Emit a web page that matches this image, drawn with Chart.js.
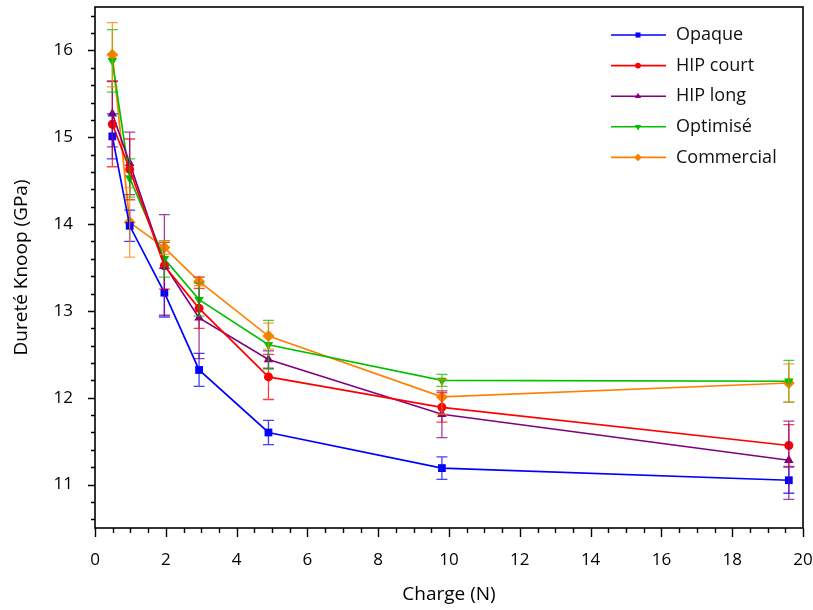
<!DOCTYPE html>
<html>
<head>
<meta charset="utf-8">
<script src="https://cdn.jsdelivr.net/npm/chart.js@4"></script>
<style>
  html, body { margin: 0; padding: 0; background: #fff; }
  #wrap { width: 813px; height: 610px; }
</style>
</head>
<body>
<div id="wrap"><canvas id="grafico" width="813" height="610"></canvas></div>
<script>
// Charge (N)
const charges = [0.49, 0.98, 1.96, 2.94, 4.9, 9.8, 19.6];

const series = ['Opaque', 'HIP court', 'HIP long', 'Optimisé', 'Commercial'];

// Dureté Knoop (GPa)
const opaque     = [15.01, 13.98, 13.21, 12.32, 11.60, 11.19, 11.05];
const hipCourt   = [15.15, 14.63, 13.52, 13.03, 12.24, 11.89, 11.45];
const hipLong    = [15.27, 14.70, 13.53, 12.92, 12.44, 11.81, 11.28];
const optimise   = [15.88, 14.53, 13.60, 13.13, 12.61, 12.20, 12.19];
const commercial = [15.95, 14.02, 13.73, 13.34, 12.71, 12.01, 12.17];

// écarts-types
const errOpaque     = [0.26, 0.18, 0.28, 0.19, 0.14, 0.13, 0.15];
const errHipCourt   = [0.49, 0.35, 0.27, 0.23, 0.26, 0.17, 0.24];
const errHipLong    = [0.38, 0.36, 0.58, 0.47, 0.10, 0.27, 0.45];
const errOptimise   = [0.36, 0.22, 0.21, 0.19, 0.28, 0.07, 0.24];
const errCommercial = [0.37, 0.40, 0.08, 0.05, 0.15, 0.20, 0.22];

const xTicks = [0, 2, 4, 6, 8, 10, 12, 14, 16, 18, 20];
const yTicks = [11, 12, 13, 14, 15, 16];

const couleurs = ['#0000ff', '#ff0000', '#800080', '#00c000', '#ff8000'];
const formes = ['rect', 'circle', 'triangle', 'triangle', 'rectRot'];
const rotations = [0, 0, 0, 180, 0];
const tailles = [5.5, 4.5, 5.5, 5.5, 6];

const valeurs = [opaque, hipCourt, hipLong, optimise, commercial];
const erreurs = [errOpaque, errHipCourt, errHipLong, errOptimise, errCommercial];

const police = '"Open Sans", "Liberation Sans", sans-serif';

const datasets = series.map((nom, i) => ({
  label: nom,
  data: charges.map((c, j) => ({ x: c, y: valeurs[i][j] })),
  erreurs: erreurs[i],
  borderColor: couleurs[i],
  backgroundColor: couleurs[i],
  borderWidth: 1.7,
  pointStyle: formes[i],
  pointRotation: rotations[i],
  pointRadius: tailles[i],
  pointBorderWidth: 0,
  tension: 0
}));

// barres d'erreur
const barresErreur = {
  id: 'barresErreur',
  afterDatasetsDraw(chart) {
    const ctx = chart.ctx;
    const sx = chart.scales.x, sy = chart.scales.y;
    ctx.save();
    chart.data.datasets.forEach(ds => {
      ctx.strokeStyle = ds.borderColor;
      ctx.globalAlpha = 0.75;
      ctx.lineWidth = 1.3;
      ds.data.forEach((p, j) => {
        const e = ds.erreurs[j];
        const px = sx.getPixelForValue(p.x);
        const y1 = sy.getPixelForValue(p.y + e);
        const y2 = sy.getPixelForValue(p.y - e);
        ctx.beginPath();
        ctx.moveTo(px, y1); ctx.lineTo(px, y2);
        ctx.moveTo(px - 5.5, y1); ctx.lineTo(px + 5.5, y1);
        ctx.moveTo(px - 5.5, y2); ctx.lineTo(px + 5.5, y2);
        ctx.stroke();
      });
    });
    ctx.restore();
  }
};

// cadre et graduations (majeures + mineures)
const cadre = {
  id: 'cadre',
  afterDraw(chart) {
    const ctx = chart.ctx;
    const a = chart.chartArea;
    const sx = chart.scales.x, sy = chart.scales.y;
    ctx.save();
    ctx.strokeStyle = '#000';
    ctx.lineWidth = 1.6;
    ctx.strokeRect(a.left, a.top, a.right - a.left, a.bottom - a.top);
    ctx.lineWidth = 1.4;
    ctx.beginPath();
    for (let v = sx.min; v <= sx.max + 1e-6; v += 0.5) {
      const px = Math.round(sx.getPixelForValue(v)) + 0.5;
      const maj = Math.abs(v / 2 - Math.round(v / 2)) < 1e-6;
      ctx.moveTo(px, a.bottom);
      ctx.lineTo(px, a.bottom + (maj ? 9 : 5));
    }
    for (let k = Math.ceil(sy.min * 5); k <= Math.floor(sy.max * 5); k++) {
      const v = k / 5;
      const py = Math.round(sy.getPixelForValue(v)) + 0.5;
      const maj = k % 5 === 0;
      ctx.moveTo(a.left, py);
      ctx.lineTo(a.left - (maj ? 7 : 4), py);
    }
    ctx.stroke();
    ctx.restore();
  }
};

// légende dans le cadre
const legende = {
  id: 'legende',
  afterDraw(chart) {
    const ctx = chart.ctx;
    ctx.save();
    chart.data.datasets.forEach((ds, i) => {
      const y = 35 + i * 30.6;
      ctx.strokeStyle = ds.borderColor;
      ctx.lineWidth = 1.6;
      ctx.beginPath();
      ctx.moveTo(611, y); ctx.lineTo(666, y);
      ctx.stroke();
      ctx.fillStyle = ds.borderColor;
      Chart.helpers.drawPoint(ctx, {
        pointStyle: ds.pointStyle, rotation: ds.pointRotation,
        radius: ds.pointRadius * 0.65, borderWidth: 0
      }, 638, y);
      ctx.fillStyle = '#111';
      ctx.font = '18px ' + police;
      ctx.textBaseline = 'middle';
      ctx.fillText(ds.label, 676, y);
    });
    ctx.restore();
  }
};

new Chart(document.getElementById('grafico'), {
  type: 'line',
  data: { datasets },
  options: {
    responsive: false,
    animation: false,
    layout: { padding: { top: 7, right: 10, left: 0, bottom: 0 } },
    plugins: { legend: { display: false }, tooltip: { enabled: false } },
    scales: {
      x: {
        type: 'linear',
        min: 0, max: 20,
        afterFit: s => { s.height = 82; s.paddingLeft = 0; s.paddingRight = 0; },
        afterBuildTicks: s => { s.ticks = xTicks.map(v => ({ value: v })); },
        grid: { display: false },
        border: { display: false },
        ticks: { color: '#000', padding: 14, font: { family: police, size: 17 } },
        title: { display: true, text: 'Charge (N)', color: '#000', padding: { top: 6 }, font: { family: police, size: 19 } }
      },
      y: {
        type: 'linear',
        min: 10.5, max: 16.5,
        afterFit: s => { s.width = 95; s.paddingTop = 0; s.paddingBottom = 0; },
        afterBuildTicks: s => { s.ticks = yTicks.map(v => ({ value: v })); },
        grid: { display: false },
        border: { display: false },
        ticks: { color: '#000', padding: 14, font: { family: police, size: 17 } },
        title: { display: true, text: 'Dureté Knoop (GPa)', color: '#000', padding: { top: 10, bottom: 2 }, font: { family: police, size: 19 } }
      }
    }
  },
  plugins: [barresErreur, cadre, legende]
});
</script>
</body>
</html>
